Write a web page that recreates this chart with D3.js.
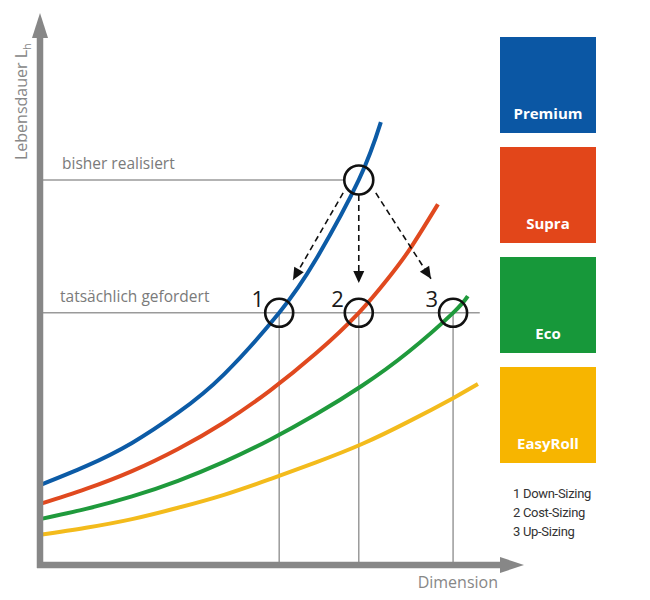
<!DOCTYPE html>
<html>
<head>
<meta charset="utf-8">
<script src="https://cdn.jsdelivr.net/npm/d3@7"></script>
<style>
  body { margin: 0; background: #fff; }
  svg { font-family: "Open Sans", "Noto Sans", sans-serif; }
</style>
</head>
<body>
<div class="chart"></div>
<script>
// Dimension (x) vs Lebensdauer (y), schematic units 0..100
const premium  = [[0, 14.8], [10, 18.3], [20, 22.6], [30, 28.2], [40, 35.3], [52, 46.7], [60, 56.6], [69.3, 71.3], [74.1, 82.0]]
const supra    = [[0, 11.3], [10, 14.1], [20, 17.4], [30, 21.5], [40, 26.4], [50, 32.3], [60, 39.2], [69.3, 46.7], [75.7, 53.1], [80.4, 58.5], [86.5, 66.8]]
const eco      = [[0, 8.5], [10, 10.4], [20, 12.7], [30, 15.6], [40, 19.1], [50, 23.2], [60, 27.9], [70, 33.2], [80, 39.4], [89.8, 46.7], [93, 49.8]]
const easyRoll = [[0, 5.6], [10, 6.9], [20, 8.5], [30, 10.6], [40, 13.0], [50, 15.9], [60, 19.0], [70, 22.4], [80, 26.5], [89.8, 30.9], [95.2, 33.5]]

const seriesNames = ["Premium", "Supra", "Eco", "EasyRoll"]
const sizingLabels = ["1 Down-Sizing", "2 Cost-Sizing", "3 Up-Sizing"]

const lifeLevels = [71.3, 46.7]            // bisher realisiert, tatsächlich gefordert
const levelLabels = ["bisher realisiert", "tatsächlich gefordert"]
const start = [69.3, 71.3]                  // current design point
const targets = [52.0, 69.3, 89.8]          // x of points 1, 2, 3 on the required level
const arrows = [
    [[65.9, 68.9], [55.0, 52.8]],
    [[69.3, 68.5], [69.3, 52.2]],
    [[73.0, 68.9], [85.0, 53.0]]
]

const width = 650, height = 600

const x = d3.scaleLinear().domain([0, 100]).range([40, 500])
const y = d3.scaleLinear().domain([0, 100]).range([565, 25])

const lineColor = d3.scaleOrdinal().domain(seriesNames)
    .range(["#0c5ba6", "#e0491f", "#1f9a3c", "#f3bb1c"])
const boxColor = d3.scaleOrdinal().domain(seriesNames)
    .range(["#0b57a4", "#e2461a", "#17983a", "#f7b500"])

const svg = d3.select(".chart").append("svg")
    .attr("width", width)
    .attr("height", height)

const axisGrey = "#878787", guideGrey = "#9a9a9a"

// guide lines for the two life levels
svg.append("line")
    .attr("x1", x(0)).attr("x2", x(start[0]) - 15)
    .attr("y1", y(lifeLevels[0])).attr("y2", y(lifeLevels[0]))
    .attr("stroke", guideGrey).attr("stroke-width", 1.5)

svg.append("line")
    .attr("x1", x(0)).attr("x2", x(95.6))
    .attr("y1", y(lifeLevels[1])).attr("y2", y(lifeLevels[1]))
    .attr("stroke", guideGrey).attr("stroke-width", 1.5)

svg.selectAll(".level-label")
    .data(levelLabels)
    .enter().append("text")
    .attr("class", "level-label")
    .attr("x", (d, i) => i === 0 ? 62 : 60)
    .attr("y", (d, i) => y(lifeLevels[i]) - 11)
    .attr("fill", "#7a7a7a")
    .style("font-size", "15.5px")
    .text(d => d)

// drop lines from the three points to the x axis
svg.selectAll(".drop")
    .data(targets)
    .enter().append("line")
    .attr("class", "drop")
    .attr("x1", d => x(d)).attr("x2", d => x(d))
    .attr("y1", y(lifeLevels[1])).attr("y2", y(0))
    .attr("stroke", guideGrey).attr("stroke-width", 1.5)

// curves
const line = d3.line()
    .x(d => x(d[0]))
    .y(d => y(d[1]))
    .curve(d3.curveNatural)

const allSeries = [easyRoll, eco, supra, premium]
const allNames = ["EasyRoll", "Eco", "Supra", "Premium"]

svg.selectAll(".curve")
    .data(allSeries)
    .enter().append("path")
    .attr("class", "curve")
    .attr("d", line)
    .attr("fill", "none")
    .attr("stroke", (d, i) => lineColor(allNames[i]))
    .attr("stroke-width", 4)

// axes with arrowheads
svg.append("line")
    .attr("x1", x(0)).attr("x2", x(0))
    .attr("y1", y(0) + 3).attr("y2", 36)
    .attr("stroke", axisGrey).attr("stroke-width", 6.5)
svg.append("path")
    .attr("d", d3.line()([[x(0) - 8, 38], [x(0), 13], [x(0) + 8, 38]]))
    .attr("fill", axisGrey)

svg.append("line")
    .attr("x1", x(0) - 3).attr("x2", 502)
    .attr("y1", y(0)).attr("y2", y(0))
    .attr("stroke", axisGrey).attr("stroke-width", 6.5)
svg.append("path")
    .attr("d", d3.line()([[500, y(0) - 8], [524, y(0)], [500, y(0) + 8]]))
    .attr("fill", axisGrey)

const ylab = svg.append("text")
    .attr("transform", "translate(27,160) rotate(-90)")
    .attr("fill", axisGrey)
    .style("font-size", "16px")
ylab.append("tspan").text("Lebensdauer L")
ylab.append("tspan").attr("dy", 4).style("font-size", "11px").text("h")

svg.append("text")
    .attr("x", 498).attr("y", 588)
    .style("text-anchor", "end")
    .attr("fill", axisGrey)
    .style("font-size", "16px")
    .text("Dimension")

// dashed arrows
svg.selectAll(".arrow")
    .data(arrows)
    .enter().append("line")
    .attr("class", "arrow")
    .attr("x1", d => x(d[0][0])).attr("y1", d => y(d[0][1]))
    .attr("x2", d => x(d[1][0])).attr("y2", d => y(d[1][1]))
    .attr("stroke", "#111").attr("stroke-width", 1.6)
    .attr("stroke-dasharray", "6,4")

svg.selectAll(".arrowhead")
    .data(arrows)
    .enter().append("path")
    .attr("class", "arrowhead")
    .attr("d", function(d) {
        const x0 = x(d[0][0]), y0 = y(d[0][1]), x1 = x(d[1][0]), y1 = y(d[1][1])
        const a = Math.atan2(y1 - y0, x1 - x0)
        const len = 12, half = 5.5
        const bx = x1 - len * Math.cos(a), by = y1 - len * Math.sin(a)
        return d3.line()([
            [bx + half * Math.sin(a), by - half * Math.cos(a)],
            [x1, y1],
            [bx - half * Math.sin(a), by + half * Math.cos(a)]
        ]) + "Z"
    })
    .attr("fill", "#111")

// circles
svg.append("circle")
    .attr("cx", x(start[0])).attr("cy", y(start[1]))
    .attr("r", 14.5)
    .attr("fill", "none").attr("stroke", "#111").attr("stroke-width", 2.6)

svg.selectAll(".target")
    .data(targets)
    .enter().append("circle")
    .attr("class", "target")
    .attr("cx", d => x(d)).attr("cy", y(lifeLevels[1]))
    .attr("r", 14)
    .attr("fill", "none").attr("stroke", "#111").attr("stroke-width", 2.6)

svg.selectAll(".num")
    .data(targets)
    .enter().append("text")
    .attr("class", "num")
    .attr("x", d => x(d) - 15)
    .attr("y", y(lifeLevels[1]) - 6)
    .style("text-anchor", "end")
    .attr("fill", "#1a1a1a")
    .style("font-size", "22px")
    .text((d, i) => i + 1)

// legend boxes
const legend = svg.selectAll(".legend")
    .data(seriesNames)
    .enter().append("g")
    .attr("class", "legend")
    .attr("transform", (d, i) => "translate(500," + (37 + i * 110) + ")")

legend.append("rect")
    .attr("width", 96)
    .attr("height", 96)
    .attr("fill", d => boxColor(d))

legend.append("text")
    .attr("x", 48)
    .attr("y", 82)
    .style("text-anchor", "middle")
    .style("font-weight", "bold")
    .style("font-size", "15px")
    .attr("fill", "#fff")
    .text(d => d)

svg.selectAll(".sizing")
    .data(sizingLabels)
    .enter().append("text")
    .attr("class", "sizing")
    .attr("x", 513)
    .attr("y", (d, i) => 498 + i * 19)
    .attr("fill", "#333")
    .style("font-family", "Roboto, sans-serif")
    .style("font-size", "13px")
    .style("letter-spacing", "-0.3px")
    .text(d => d)
</script>
</body>
</html>
